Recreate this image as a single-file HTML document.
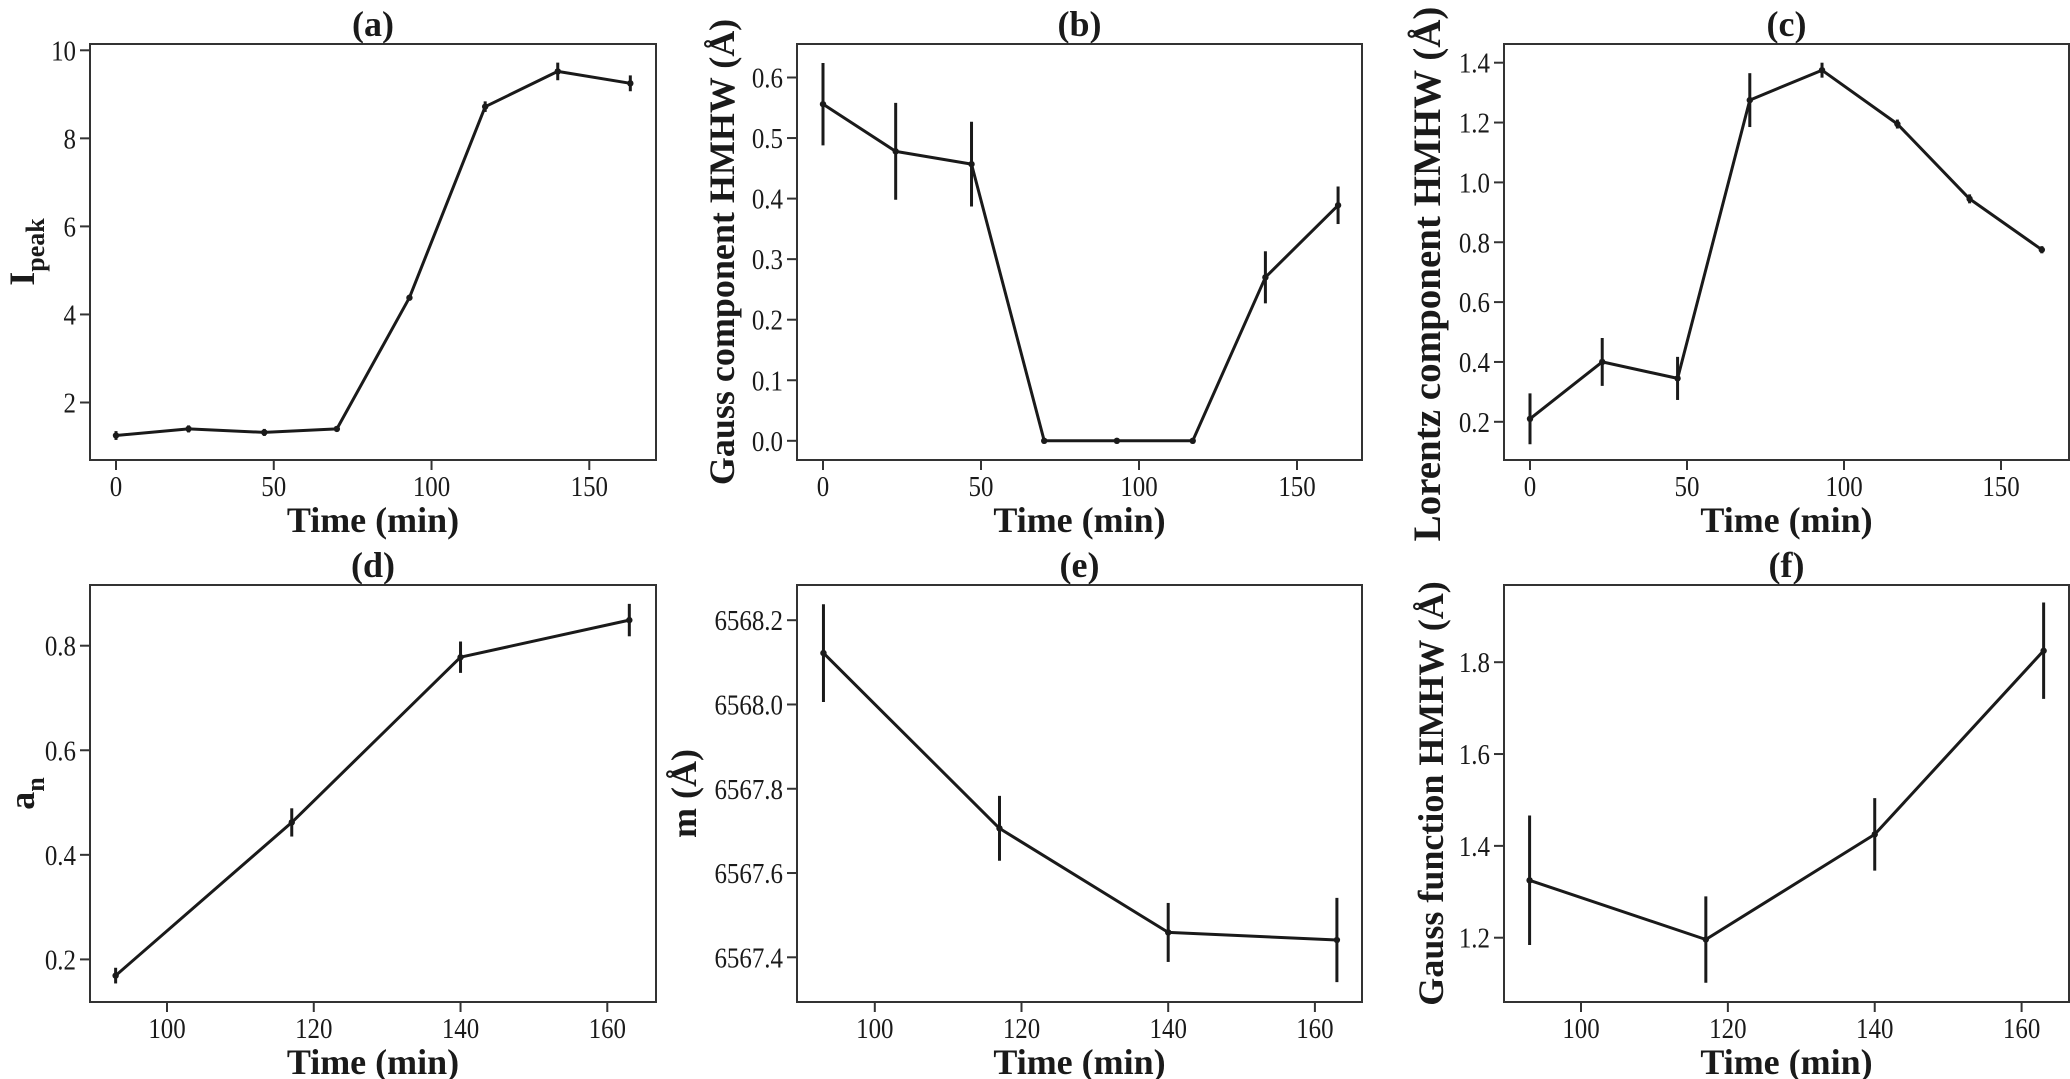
<!DOCTYPE html>
<html><head><meta charset="utf-8">
<style>
html,body{margin:0;padding:0;background:#fff;}
svg{display:block;}
text{font-family:"Liberation Serif",serif;fill:#1a1a1a;}
</style></head>
<body>
<svg id="fig" width="2070" height="1079" viewBox="0 0 2070 1079" xmlns="http://www.w3.org/2000/svg"></svg>
<script>
// ---- data ----
const timesTop = [0, 23, 47, 70, 93, 117, 140, 163];
const timesBottom = [93, 117, 140, 163];
const ipeakValues = [1.25, 1.4, 1.32, 1.4, 4.38, 8.72, 9.52, 9.25];
const ipeakErrors = [0.1, 0.08, 0.08, 0.05, 0.05, 0.12, 0.2, 0.18];
const gaussCompValues = [0.556, 0.478, 0.457, 0, 0, 0, 0.27, 0.389];
const gaussCompErrors = [0.068, 0.08, 0.07, 0, 0, 0, 0.043, 0.031];
const lorentzValues = [0.21, 0.40, 0.345, 1.275, 1.375, 1.195, 0.945, 0.775];
const lorentzErrors = [0.085, 0.08, 0.072, 0.09, 0.025, 0.015, 0.015, 0.012];
const anValues = [0.169, 0.462, 0.778, 0.849];
const anErrors = [0.015, 0.027, 0.03, 0.031];
const mValues = [6568.122, 6567.706, 6567.459, 6567.441];
const mErrors = [0.116, 0.077, 0.07, 0.1];
const gaussFnValues = [1.325, 1.196, 1.425, 1.825];
const gaussFnErrors = [0.141, 0.094, 0.079, 0.105];
const xTicksTop = [0, 50, 100, 150];
const xTicksBottom = [100, 120, 140, 160];
const yTicksA = [2, 4, 6, 8, 10];
const yTicksB = [0.0, 0.1, 0.2, 0.3, 0.4, 0.5, 0.6];
const yTicksC = [0.2, 0.4, 0.6, 0.8, 1.0, 1.2, 1.4];
const yTicksD = [0.2, 0.4, 0.6, 0.8];
const yTicksE = [6567.4, 6567.6, 6567.8, 6568.0, 6568.2];
const yTicksF = [1.2, 1.4, 1.6, 1.8];

const NS = "http://www.w3.org/2000/svg";
const svg = document.getElementById('fig');
function mk(tag, attrs, parent){
  const e = document.createElementNS(NS, tag);
  for (const k in attrs) e.setAttribute(k, attrs[k]);
  (parent||svg).appendChild(e);
  return e;
}
function linScale(d0, d1, p0, p1){ return v => p0 + (v - d0) * (p1 - p0) / (d1 - d0); }

const panels = [
  {id:'a', title:'(a)', box:[90,44,656,460], xs:linScale(0,150,116,589.3), ys:linScale(2,10,402.5,50.3),
   xt:xTicksTop, yt:yTicksA, dec:0, t:timesTop, v:ipeakValues, e:ipeakErrors, ylab:'I', sub:'peak', ylx:22, yfs:36},
  {id:'b', title:'(b)', box:[797,44,1362,460], xs:linScale(0,150,823,1297), ys:linScale(0,0.6,440.8,77.5),
   xt:xTicksTop, yt:yTicksB, dec:1, t:timesTop, v:gaussCompValues, e:gaussCompErrors, ylab:'Gauss component HMHW (Å)', ylx:722, yfs:36},
  {id:'c', title:'(c)', box:[1504,44,2069,460], xs:linScale(0,150,1530,2001), ys:linScale(0.2,1.4,421.8,62.7),
   xt:xTicksTop, yt:yTicksC, dec:1, t:timesTop, v:lorentzValues, e:lorentzErrors, ylab:'Lorentz component HMHW (Å)', ylx:1428, yfs:39, ylc:274},
  {id:'d', title:'(d)', box:[90,585,656,1002], xs:linScale(100,160,167,607.3), ys:linScale(0.2,0.8,959.4,645.7),
   xt:xTicksBottom, yt:yTicksD, dec:1, t:timesBottom, v:anValues, e:anErrors, ylab:'a', sub:'n', ylx:22, yfs:36},
  {id:'e', title:'(e)', box:[797,585,1362,1002], xs:linScale(100,160,874.8,1314.9), ys:linScale(6567.4,6568.2,957.3,620.2),
   xt:xTicksBottom, yt:yTicksE, dec:1, t:timesBottom, v:mValues, e:mErrors, ylab:'m (Å)', ylx:684, yfs:36},
  {id:'f', title:'(f)', box:[1504,585,2069,1002], xs:linScale(100,160,1581,2021.6), ys:linScale(1.2,1.8,937.7,662.2),
   xt:xTicksBottom, yt:yTicksF, dec:1, t:timesBottom, v:gaussFnValues, e:gaussFnErrors, ylab:'Gauss function HMHW (Å)', ylx:1431, yfs:36}
];

panels.forEach(p => {
  const [x0,y0,x1,y1] = p.box;
  const g = mk('g', {});
  
  
  const frame = mk('rect', {x:x0, y:y0, width:x1-x0, height:y1-y0, fill:'none', stroke:'#333', 'stroke-width':2}, g);
  
  
  const title = mk('text', {x:(x0+x1)/2, y:y0-8, 'text-anchor':'middle', 'font-size':36, 'font-weight':'bold'}, g);
  title.textContent = p.title;
  
  
  p.xt.forEach(v => {
    const x = p.xs(v);
    mk('line', {x1:x, y1:y1, x2:x, y2:y1+10, stroke:'#333', 'stroke-width':2}, g);
    const t = mk('text', {x:0, y:0, 'text-anchor':'middle', 'font-size':29,
      transform:'translate(' + x + ',' + (y1+36) + ') scale(0.86,1)'}, g);
    t.textContent = v;
    
    
  });
  p.yt.forEach(v => {
    const y = p.ys(v);
    mk('line', {x1:x0-10, y1:y, x2:x0, y2:y, stroke:'#333', 'stroke-width':2}, g);
    const t = mk('text', {x:0, y:0, 'text-anchor':'end', 'font-size':29,
      transform:'translate(' + (x0-14) + ',' + (y+10) + ') scale(0.86,1)'}, g);
    t.textContent = v.toFixed(p.dec);
    
    
  });
  const xl = mk('text', {x:(x0+x1)/2, y:y1+72, 'text-anchor':'middle', 'font-size':36, 'font-weight':'bold'}, g);
  xl.textContent = 'Time (min)';
  
  
  const yc = p.ylc || (y0+y1)/2;
  const yl = mk('text', {x:0, y:0, 'text-anchor':'middle', 'font-size':p.yfs, 'font-weight':'bold',
     transform:'translate(' + (p.ylx+12) + ',' + yc + ') rotate(-90)'}, g);
  
  
  yl.textContent = p.ylab;
  if (p.sub) {
    const ts = mk('tspan', {'font-size':26, dy:10}, yl);
    ts.textContent = p.sub;
  }
  const pts = p.t.map((t,i) => p.xs(t).toFixed(1) + ',' + p.ys(p.v[i]).toFixed(1)).join(' ');
  const line = mk('polyline', {points:pts, fill:'none', stroke:'#1a1a1a', 'stroke-width':3, 'stroke-linejoin':'round'}, g);
  
  
  p.t.forEach((t,i) => {
    const x = p.xs(t);
    if (p.e[i] > 0) {
      const eb = mk('line', {x1:x, y1:p.ys(p.v[i]-p.e[i]), x2:x, y2:p.ys(p.v[i]+p.e[i]), stroke:'#1a1a1a', 'stroke-width':3}, g);
      
      
    }
    const c = mk('circle', {cx:x, cy:p.ys(p.v[i]), r:3.2, fill:'#1a1a1a'}, g);
    
    
  });
});
</script>
</body></html>
